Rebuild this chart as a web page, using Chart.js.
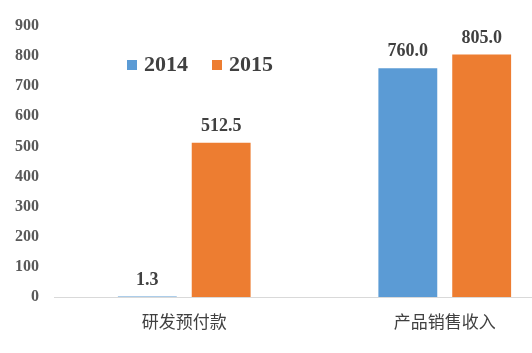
<!DOCTYPE html>
<html>
<head>
<meta charset="utf-8">
<script src="https://cdn.jsdelivr.net/npm/chart.js@4/dist/chart.umd.min.js"></script>
<style>
  html, body { margin: 0; padding: 0; overflow: hidden; background: #fff; }
  #wrap { position: relative; width: 532px; height: 353px; overflow: hidden; }
  #legend { position: absolute; left: 127px; top: 51px; display: flex;
            font: bold 22px "Liberation Serif", "Times New Roman", serif; color: #404040; }
  #legend .item { display: flex; align-items: center; margin-right: 24px; }
  #legend .box { width: 10px; height: 10px; margin-right: 7px; margin-top: 2px; }
</style>
</head>
<body>
<div id="wrap">
  <canvas id="myChart" width="575" height="353"></canvas>
  <div id="legend"></div>
</div>
<script>
const categories = ['研发预付款', '产品销售收入'];
const years = ['2014', '2015'];
const values2014 = [1.3, 760.0];
const values2015 = [512.5, 805.0];
const yTicks = [0, 100, 200, 300, 400, 500, 600, 700, 800, 900];

const blue = '#5B9BD5';
const orange = '#ED7D31';

const data = {
  labels: categories,
  datasets: [
    { label: years[0], data: values2014, backgroundColor: blue },
    { label: years[1], data: values2015, backgroundColor: orange },
  ],
};

// value labels above each bar
const barLabels = {
  id: 'barLabels',
  afterDatasetsDraw(chart) {
    const ctx = chart.ctx;
    ctx.save();
    ctx.font = 'bold 18px "Liberation Serif", "Times New Roman", serif';
    ctx.fillStyle = '#404040';
    ctx.textAlign = 'center';
    ctx.textBaseline = 'alphabetic';
    chart.data.datasets.forEach((ds, i) => {
      chart.getDatasetMeta(i).data.forEach((bar, j) => {
        ctx.fillText(ds.data[j].toFixed(1), bar.x, bar.y - 12);
      });
    });
    ctx.restore();
  },
};

const config = {
  type: 'bar',
  data: data,
  plugins: [barLabels],
  options: {
    responsive: false,
    animation: false,
    layout: { padding: { top: 26, right: 0, left: 0, bottom: 0 } },
    datasets: {
      bar: { categoryPercentage: 0.567, barPercentage: 0.797 },
    },
    plugins: {
      legend: { display: false },
      tooltip: { enabled: false },
    },
    scales: {
      x: {
        grid: { display: false, drawTicks: false },
        border: { display: true, color: '#D9D9D9', width: 1 },
        ticks: {
          padding: 14,
          color: '#404040',
          font: { family: '"Noto Sans CJK SC"', size: 17 },
        },
        afterFit(scale) { scale.height = 56; },
      },
      y: {
        min: 0,
        max: 900,
        afterBuildTicks(scale) { scale.ticks = yTicks.map(v => ({ value: v })); },
        grid: { display: false, drawTicks: false },
        border: { display: false },
        ticks: {
          padding: 15,
          color: '#595959',
          font: { family: '"Liberation Serif", "Times New Roman", serif', size: 16, weight: 'bold' },
        },
        afterFit(scale) { scale.width = 54; },
      },
    },
  },
};

const myChart = new Chart(document.getElementById('myChart'), config);

// html legend inside the plot
const legend = document.getElementById('legend');
data.datasets.forEach(ds => {
  const item = document.createElement('div');
  item.className = 'item';
  const box = document.createElement('span');
  box.className = 'box';
  box.style.background = ds.backgroundColor;
  const txt = document.createElement('span');
  txt.textContent = ds.label;
  item.appendChild(box);
  item.appendChild(txt);
  legend.appendChild(item);
});
</script>
</body>
</html>
